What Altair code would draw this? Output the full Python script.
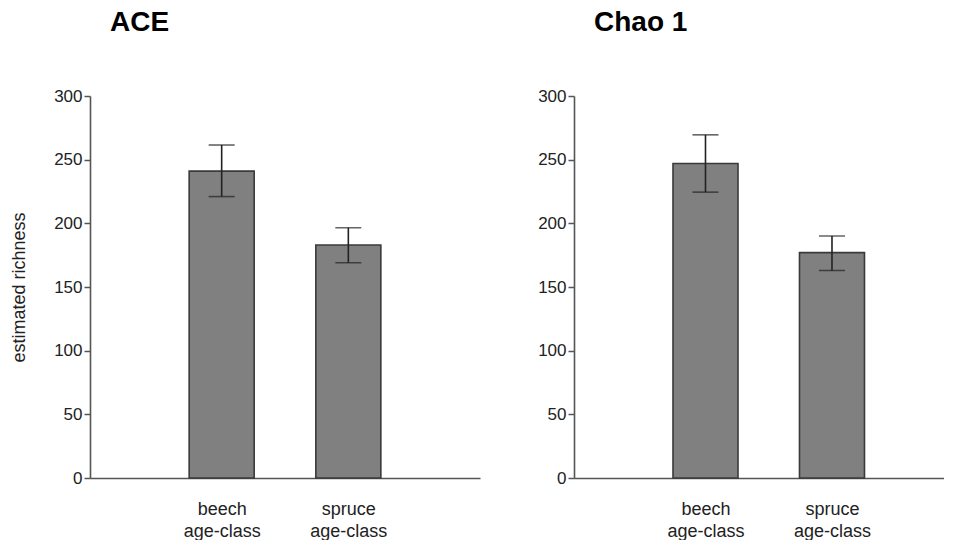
import altair as alt
import pandas as pd

categories = ["beech age-class", "spruce age-class"]
positions = [1, 2]
ace_mean = [241, 183]
ace_low = [221, 169]
ace_high = [261.5, 196.5]
chao_mean = [247, 177]
chao_low = [224.5, 163]
chao_high = [269.5, 190]

FONT = "Liberation Sans"
LABEL_EXPR = "datum.value == 1 ? ['beech', 'age-class'] : ['spruce', 'age-class']"


def panel(title, means, lows, highs, width, xmax, ytitle):
    df = pd.DataFrame({
        "category": categories,
        "pos": positions,
        "mean": means,
        "low": lows,
        "high": highs,
    })
    xscale = alt.Scale(domain=[0, xmax], nice=False, zero=True)
    yscale = alt.Scale(domain=[0, 300], nice=False)
    xaxis = alt.Axis(values=[1, 2], labelExpr=LABEL_EXPR, ticks=False, grid=False,
                     title=None, labelPadding=22, labelLineHeight=22,
                     labelFontSize=18, labelColor="#222", labelFont=FONT,
                     domainColor="#555", domainWidth=1.6, labelBaseline="top")
    yaxis = alt.Axis(values=[0, 50, 100, 150, 200, 250, 300], grid=False,
                     title=ytitle if ytitle else None, titleFontWeight="normal",
                     titleFontSize=18, titleFont=FONT, titleColor="#222",
                     titlePadding=25, labelFontSize=17, labelFont=FONT,
                     labelColor="#222", tickSize=6, tickColor="#555",
                     tickWidth=1.5, labelPadding=2, domainColor="#555",
                     domainWidth=1.6)
    base = alt.Chart(df)
    bars = base.mark_bar(size=65, orient="vertical", color="#808080",
                         stroke="#3a3a3a", strokeWidth=1.6).encode(
        x=alt.X("pos:Q", scale=xscale, axis=xaxis),
        y=alt.Y("mean:Q", scale=yscale, axis=yaxis),
    )
    rule = base.mark_rule(color="#222", strokeWidth=1.6).encode(
        x=alt.X("pos:Q", scale=xscale),
        y=alt.Y("low:Q", scale=yscale),
        y2="high:Q",
    )
    cap_hi = base.mark_tick(orient="horizontal", size=26, thickness=1.6,
                            color="#222").encode(
        x=alt.X("pos:Q", scale=xscale),
        y=alt.Y("high:Q", scale=yscale),
    )
    cap_lo = base.mark_tick(orient="horizontal", size=26, thickness=1.6,
                            color="#222").encode(
        x=alt.X("pos:Q", scale=xscale),
        y=alt.Y("low:Q", scale=yscale),
    )
    return alt.layer(bars, rule, cap_hi, cap_lo).properties(
        width=width, height=382,
        title=alt.TitleParams(title, anchor="start", frame="group", dx=20,
                              offset=50, fontSize=28, font=FONT,
                              fontWeight="bold", color="#000"),
    )


left = panel("ACE", ace_mean, ace_low, ace_high, 390, 3.0, "estimated richness")
right = panel("Chao 1", chao_mean, chao_low, chao_high, 370, 2.846, None)

chart = alt.hconcat(left, right, spacing=57).properties(
    padding={"left": 2, "top": 1, "right": 0, "bottom": 0}
).configure_view(strokeWidth=0, stroke="transparent")

chart.save("out.html", embed_options={"renderer": "svg", "actions": False})
